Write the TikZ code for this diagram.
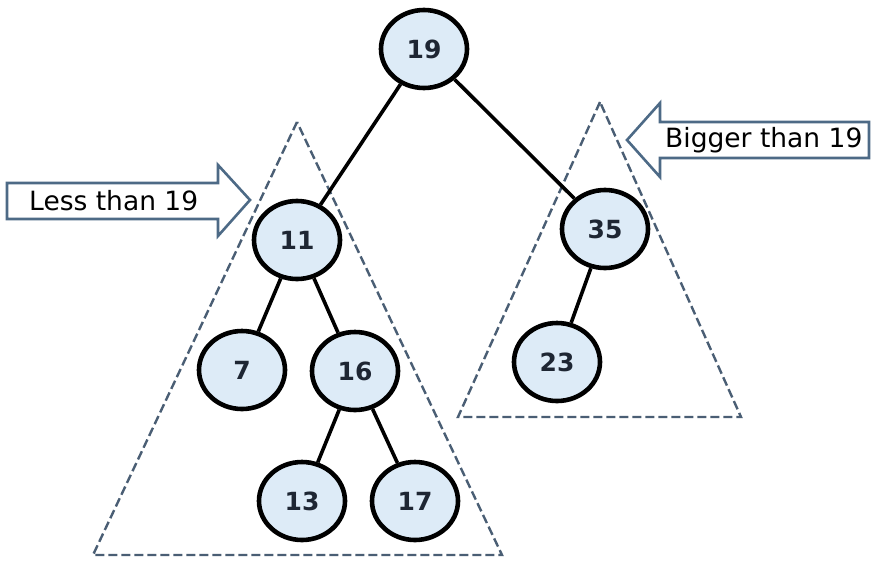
\documentclass[tikz,border=0pt]{standalone}
\usepackage{fontspec}
\setmainfont{DejaVu Sans}
\usetikzlibrary{shapes.geometric}
\definecolor{nodefill}{HTML}{DDEBF7}
\definecolor{dashcol}{HTML}{4A5E74}
\definecolor{arrowcol}{HTML}{4D6A86}
\definecolor{numcol}{HTML}{1E2633}
\tikzset{
  bst/.style={ellipse, draw=black, line width=4.6pt, fill=nodefill,
    minimum width=86pt, minimum height=78pt, inner sep=0pt,
    font=\fontsize{25}{25}\selectfont\bfseries, text=numcol},
  edge/.style={line width=3.6pt, draw=black},
  region/.style={draw=dashcol, line width=2.4pt, dash pattern=on 9pt off 4pt, line join=miter},
  callout/.style={draw=arrowcol, line width=2.6pt, fill=white, line join=miter},
  calltext/.style={font=\fontsize{26.5}{26.5}\selectfont, inner sep=0pt, text=black}
}
\begin{document}
\begin{tikzpicture}[x=1pt,y=-1pt]
\useasboundingbox[fill=white] (0,0) rectangle (874,560);
% dashed regions
\draw[region] (297,122) -- (93,555) -- (502,555) -- cycle;
\draw[region] (600,102) -- (458,417) -- (741,417) -- cycle;
% callout arrows
\draw[callout] (7,183) -- (218,183) -- (218,165) -- (250,200) -- (218,236) -- (218,219) -- (7,219) -- cycle;
\node[calltext, anchor=west] (less) at (29,201) {Less than 19};
\draw[callout] (869,122) -- (660,122) -- (660,103) -- (627,140) -- (660,177) -- (660,158) -- (869,158) -- cycle;
\node[calltext, anchor=west] (big) at (665,140) {Bigger than 19};
% nodes
\node[bst] (n19) at (424,49) {19};
\node[bst] (n11) at (297,240) {11};
\node[bst] (n35) at (605,229) {35};
\node[bst] (n7) at (242,370) {7};
\node[bst] (n16) at (355,371) {16};
\node[bst] (n23) at (557,362) {23};
\node[bst] (n13) at (302,501) {13};
\node[bst] (n17) at (415,501) {17};
% edges
\draw[edge] (n19) -- (n11);
\draw[edge] (n19) -- (n35);
\draw[edge] (n11) -- (n7);
\draw[edge] (n11) -- (n16);
\draw[edge] (n16) -- (n13);
\draw[edge] (n16) -- (n17);
\draw[edge] (n35) -- (n23);
\end{tikzpicture}
\end{document}
